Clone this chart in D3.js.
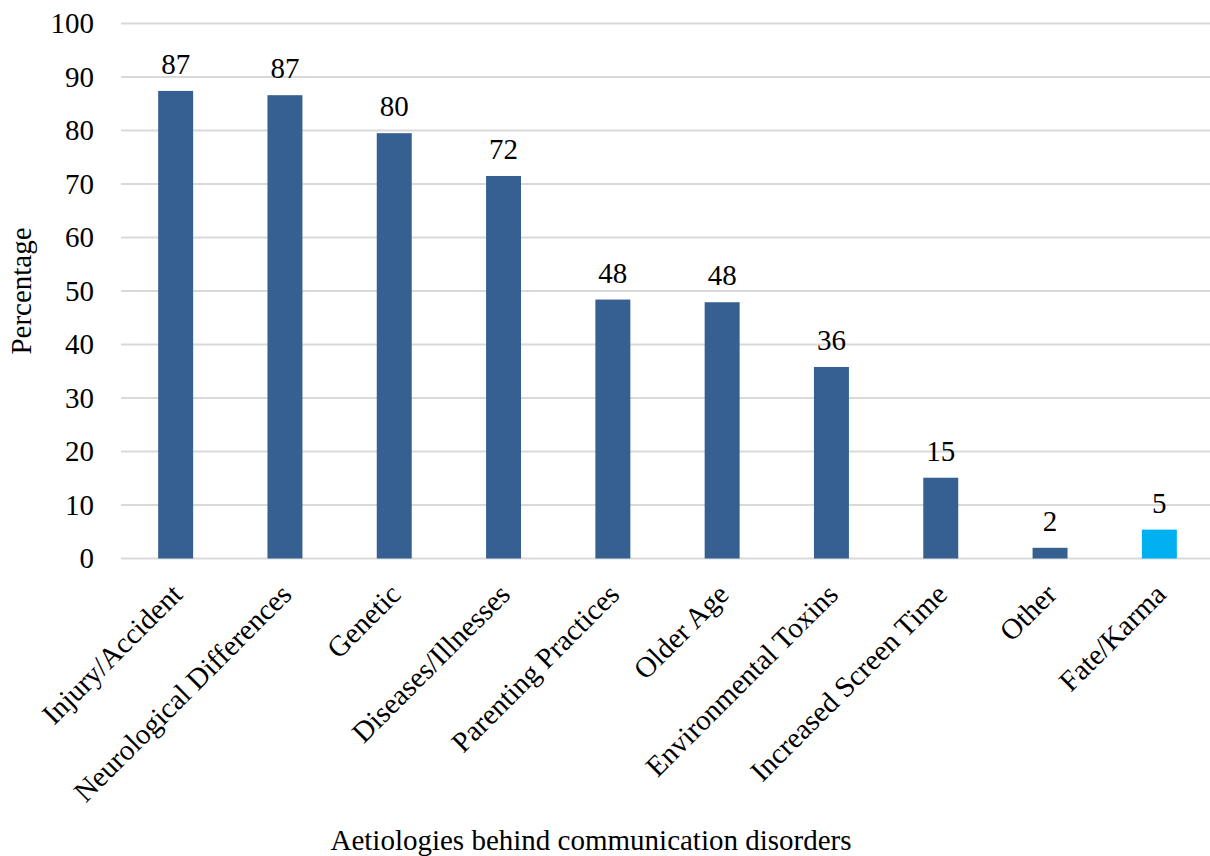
<!DOCTYPE html>
<html>
<head>
<meta charset="utf-8">
<script src="https://cdn.jsdelivr.net/npm/d3@7"></script>
<style>
  body { margin: 0; background: #fff; }
  text { font-family: "Liberation Serif", "Times New Roman", serif; fill: #000; }
</style>
</head>
<body>
<div id="chart"></div>
<script>
const categories = ["Injury/Accident", "Neurological Differences", "Genetic", "Diseases/Illnesses",
    "Parenting Practices", "Older Age", "Environmental Toxins", "Increased Screen Time", "Other", "Fate/Karma"];
const values = [87.4, 86.6, 79.5, 71.5, 48.4, 47.9, 35.8, 15.1, 2.0, 5.4];
const labels = ["87", "87", "80", "72", "48", "48", "36", "15", "2", "5"];
const yTicks = [0, 10, 20, 30, 40, 50, 60, 70, 80, 90, 100];

const width = 1210, height = 856;
const fontSize = 29;

const svg = d3.select("#chart")
    .append("svg")
    .attr("width", width)
    .attr("height", height);

const x = d3.scaleBand()
    .domain(categories)
    .range([121, 1214])
    .paddingInner(0.68)
    .paddingOuter(0.34);

const y = d3.scaleLinear()
    .domain([0, 100])
    .range([558.5, 23.5]);

// gridlines
svg.append("g")
    .selectAll("line")
    .data(yTicks)
    .enter().append("line")
    .attr("x1", 121)
    .attr("x2", width)
    .attr("y1", d => y(d))
    .attr("y2", d => y(d))
    .attr("stroke", "#d9d9d9")
    .attr("stroke-width", 2);

// y axis labels
const yAxis = svg.append("g")
    .attr("transform", "translate(94,0)")
    .call(d3.axisLeft(y).tickValues(yTicks).tickSize(0).tickPadding(0));
yAxis.select(".domain").remove();
yAxis.selectAll("text")
    .style("font-size", fontSize + "px")
    .style("font-family", "Liberation Serif, Times New Roman, serif");

// bars
svg.selectAll(".bar")
    .data(values)
    .enter().append("rect")
    .attr("class", "bar")
    .attr("x", (d, i) => x(categories[i]))
    .attr("y", d => y(d))
    .attr("width", x.bandwidth())
    .attr("height", d => y(0) - y(d))
    .attr("fill", (d, i) => categories[i] === "Fate/Karma" ? "#00b0f0" : "#376092");

// value labels
svg.selectAll(".val")
    .data(values)
    .enter().append("text")
    .attr("class", "val")
    .attr("x", (d, i) => x(categories[i]) + x.bandwidth() / 2)
    .attr("y", d => y(d) - 17)
    .attr("text-anchor", "middle")
    .style("font-size", fontSize + "px")
    .text((d, i) => labels[i]);

// category labels
svg.selectAll(".cat")
    .data(categories)
    .enter().append("text")
    .attr("class", "cat")
    .attr("transform", d => `translate(${x(d) + x.bandwidth() / 2 + 1},589) rotate(-45)`)
    .attr("dy", "0.35em")
    .attr("text-anchor", "end")
    .style("font-size", fontSize + "px")
    .text(d => d);

// axis titles
svg.append("text")
    .attr("x", 591)
    .attr("y", 850)
    .attr("text-anchor", "middle")
    .style("font-size", fontSize + "px")
    .text("Aetiologies behind communication disorders");

svg.append("text")
    .attr("transform", "translate(31,291) rotate(-90)")
    .attr("text-anchor", "middle")
    .style("font-size", fontSize + "px")
    .text("Percentage");
</script>
</body>
</html>
